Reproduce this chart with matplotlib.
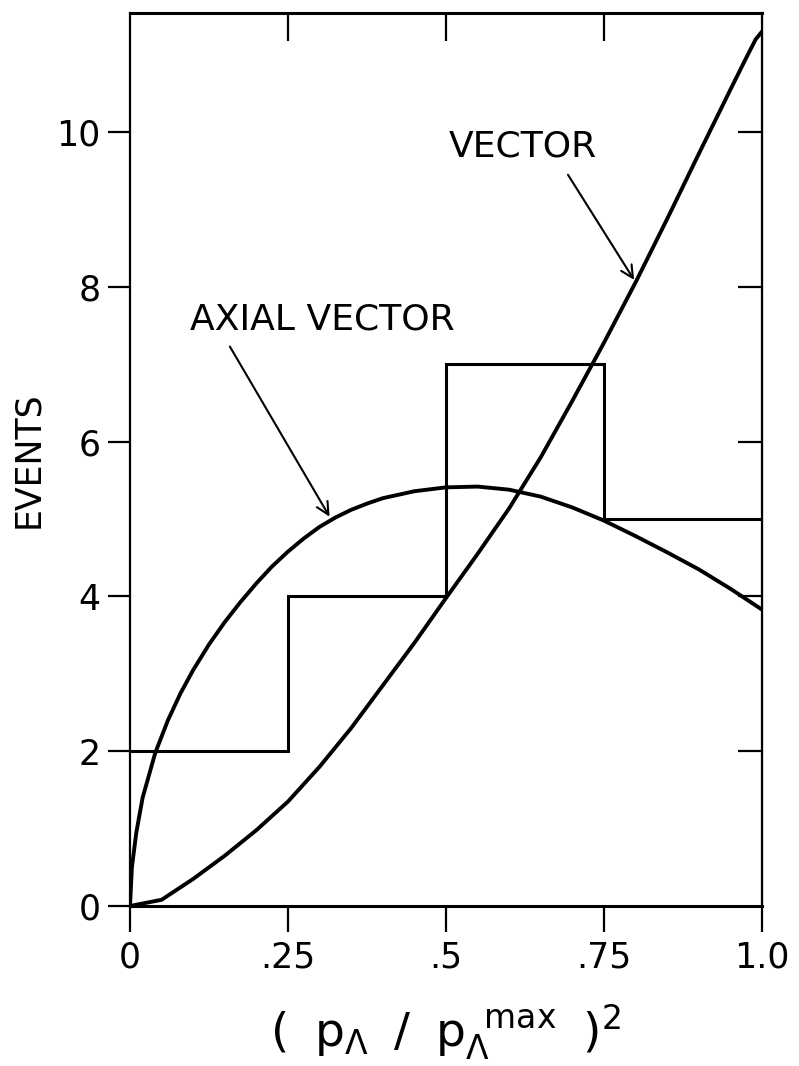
import matplotlib
matplotlib.use("Agg")
import matplotlib.pyplot as plt

# histogram of observed events
bin_edges = [0.0, 0.25, 0.5, 0.75, 1.0]
event_counts = [2, 4, 7, 5]

# theoretical curves
axial_x = [0.0, 0.003, 0.01, 0.02, 0.04, 0.06, 0.08, 0.10, 0.125, 0.15, 0.175, 0.20,
           0.225, 0.25, 0.275, 0.30, 0.325, 0.35, 0.375, 0.40, 0.45, 0.50, 0.55,
           0.60, 0.65, 0.70, 0.75, 0.80, 0.85, 0.90, 0.95, 1.0]
axial_y = [0.0, 0.5, 0.95, 1.4, 1.98, 2.4, 2.75, 3.05, 3.38, 3.67, 3.93, 4.17,
           4.39, 4.58, 4.75, 4.90, 5.02, 5.12, 5.20, 5.27, 5.36, 5.41, 5.42,
           5.38, 5.29, 5.15, 4.98, 4.78, 4.57, 4.35, 4.10, 3.83]

vector_x = [0.0, 0.05, 0.10, 0.15, 0.20, 0.25, 0.30, 0.35, 0.40, 0.45, 0.50, 0.55,
            0.60, 0.65, 0.70, 0.75, 0.80, 0.85, 0.90, 0.95, 0.975, 0.99, 1.0]
vector_y = [0.0, 0.08, 0.35, 0.65, 0.98, 1.35, 1.8, 2.3, 2.85, 3.4, 3.98, 4.55,
            5.14, 5.8, 6.53, 7.28, 8.06, 8.88, 9.72, 10.55, 10.96, 11.2, 11.3]

x_ticks = [0, 0.25, 0.5, 0.75, 1.0]
x_ticklabels = ["0", ".25", ".5", ".75", "1.0"]
y_ticks = [0, 2, 4, 6, 8, 10]
y_ticklabels = ["0", "2", "4", "6", "8", "10"]

plt.rcParams["font.family"] = ["DejaVu Sans"]
plt.rcParams["mathtext.fontset"] = "dejavusans"

fig = plt.figure(figsize=(7.99, 10.66), dpi=100)
ax = fig.add_axes([0.1627, 0.1501, 0.7910, 0.8377])
ax.set_xlim(0, 1.0)
ax.set_ylim(0, 11.54)

for side in ("top", "bottom"):
    ax.spines[side].set_linewidth(2.2)
for side in ("left", "right"):
    ax.spines[side].set_linewidth(1.6)

ax.stairs(event_counts, bin_edges, baseline=None, color="black", lw=2.2)
ax.plot(axial_x, axial_y, color="black", lw=2.8, solid_capstyle="round")
ax.plot(vector_x, vector_y, color="black", lw=2.8, solid_capstyle="round")

ax.set_xticks(x_ticks)
ax.set_xticklabels(x_ticklabels)
ax.set_yticks(y_ticks)
ax.set_yticklabels(y_ticklabels)
ax.tick_params(axis="x", direction="out", length=19, width=1.6, pad=6, labelsize=25)
ax.tick_params(axis="y", direction="out", length=16, width=1.6, pad=5, labelsize=25)

top = ax.secondary_xaxis("top")
top.set_xticks([0.25, 0.5, 0.75])
top.tick_params(direction="in", length=20, width=1.6, labeltop=False)
top.set_xticklabels([])
right = ax.secondary_yaxis("right")
right.set_yticks([2, 4, 6, 8, 10])
right.tick_params(direction="in", length=17, width=1.6, labelright=False)
right.set_yticklabels([])

ax.set_ylabel("EVENTS", fontsize=25, labelpad=8)
ax.set_xlabel(r"$(\;\;\mathsf{p}_{\Lambda}\;\;/\;\;\mathsf{p}_{\Lambda}^{\;\;\mathsf{max}}\;\;)^{2}$",
              fontsize=34, labelpad=20)

# labels with arrows pointing at the curves
ax.text(0.622, 9.82, "VECTOR", fontsize=26, ha="center", va="center")
ax.text(0.304, 7.58, "AXIAL VECTOR", fontsize=26, ha="center", va="center")
arrow = dict(arrowstyle="->", color="black", lw=1.5, mutation_scale=22,
             shrinkA=0, shrinkB=2)
ax.annotate("", xy=(0.80, 8.06), xytext=(0.693, 9.45), arrowprops=arrow)
ax.annotate("", xy=(0.318, 5.0), xytext=(0.158, 7.23), arrowprops=arrow)

fig.savefig("out.png", dpi=100)
